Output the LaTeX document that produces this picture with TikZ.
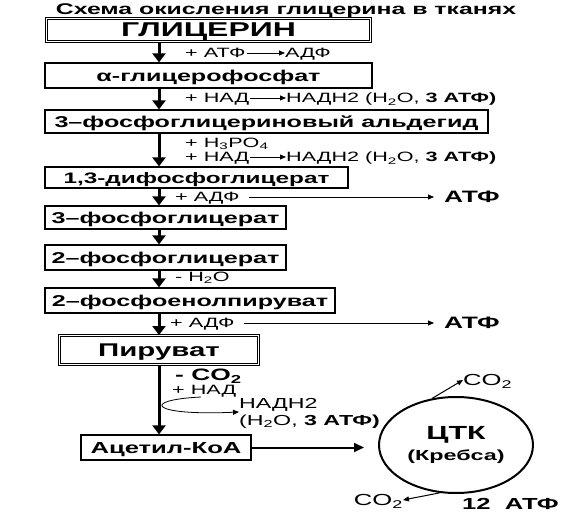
\documentclass[tikz,border=0pt]{standalone}
\usepackage{fontspec}
\setmainfont[FakeStretch=1.6]{Liberation Sans}
\usetikzlibrary{arrows.meta,shapes.geometric}

\begin{document}
\begin{tikzpicture}[x=1pt, y=-1pt,
    box/.style={draw, line width=1.2pt, inner sep=0pt, text depth=0pt,
                font=\fontsize{15.7}{15.7}\selectfont\bfseries},
    bigbox/.style={box, double, double distance=1.6pt, line width=0.9pt,
                   font=\fontsize{20}{20}\selectfont\bfseries},
    lbl/.style={inner sep=0pt, anchor=west, text depth=0pt,
                font=\fontsize{13.5}{13.5}\selectfont},
    blbl/.style={lbl, font=\fontsize{16.5}{16.5}\selectfont\bfseries},
    arr/.style={-{Triangle[length=9pt,width=13pt]}, line width=3pt},
    sarr/.style={-{Triangle[length=6pt,width=5pt]}, line width=0.8pt}
  ]
  \useasboundingbox (0,0) rectangle (567,529);
  \coordinate (ax) at (159,0);

  \node[font=\fontsize{15.5}{15.5}\selectfont\bfseries, text depth=0pt] (title) at (286,9)
    {Схема окисления глицерина в тканях};

  % main chain
  \node[bigbox, minimum width=324pt, minimum height=23pt] (gl) at (208.5,30) {ГЛИЦЕРИН};
  \node[box, minimum width=327pt, minimum height=25pt] (agp) at (208.5,75.5) {α-глицерофосфат};
  \node[box, minimum width=443pt, minimum height=23pt] (pga) at (266.5,121.5) {3–фосфоглицериновый альдегид};
  \node[box, minimum width=303pt, minimum height=21pt, font=\fontsize{15.2}{15.2}\selectfont\bfseries]
    (dpg) at (196.5,177.5) {1,3-дифосфоглицерат};
  \node[box, minimum width=241pt, minimum height=23pt] (pg3) at (165.5,217.5) {3–фосфоглицерат};
  \node[box, minimum width=241pt, minimum height=25pt] (pg2) at (165.5,257.5) {2–фосфоглицерат};
  \node[box, minimum width=290pt, minimum height=25pt] (pep) at (190,300.5) {2–фосфоенолпируват};
  \node[bigbox, minimum width=199pt, minimum height=29pt, font=\fontsize{18.4}{18.4}\selectfont\bfseries]
    (pyr) at (159,350) {Пируват};
  \node[box, minimum width=170pt, minimum height=25pt, font=\fontsize{16}{16}\selectfont\bfseries]
    (acoa) at (166,447.5) {Ацетил-КоА};

  \draw[arr] (gl.south -| ax) -- (agp.north -| ax);
  \draw[arr] (agp.south -| ax) -- (pga.north -| ax);
  \draw[arr] (pga.south -| ax) -- (dpg.north -| ax);
  \draw[arr] (dpg.south -| ax) -- (pg3.north -| ax);
  \draw[arr] (pg3.south -| ax) -- (pg2.north -| ax);
  \draw[arr] (pg2.south -| ax) -- (pep.north -| ax);
  \draw[arr] (pep.south -| ax) -- (pyr.north -| ax);
  \draw[arr] (pyr.south -| ax) -- (acoa.north -| ax);

  % side reactions
  \node[lbl] (atp1) at (185,53) {+ АТФ};
  \node[lbl] (adp1) at (285,53) {АДФ};
  \draw[sarr, shorten <=1pt] (atp1.east) -- (adp1.west);

  \node[lbl] (nad1) at (185,98) {+ НАД};
  \node[lbl] (nadh1) at (286,98) {НАДН2 (H\textsubscript{2}O, \textbf{3 АТФ)}};
  \draw[sarr, shorten <=1pt] (nad1.east) -- (nadh1.west);

  \node[lbl] (pho) at (185,143) {+ H\textsubscript{3}PO\textsubscript{4}};
  \node[lbl] (nad2) at (185,157) {+ НАД};
  \node[lbl] (nadh2) at (286,157) {НАДН2 (H\textsubscript{2}O, \textbf{3 АТФ)}};
  \draw[sarr, shorten <=1pt] (nad2.east) -- (nadh2.west);

  \node[lbl] (adp2) at (175,197) {+ АДФ};
  \node[blbl] (atp2) at (444,197) {АТФ};
  \draw[sarr, shorten <=9pt, shorten >=10pt] (adp2.east) -- (atp2.west);

  \node[lbl] (h2o) at (175,277) {- H\textsubscript{2}O};

  \node[lbl] (adp3) at (170,323) {+ АДФ};
  \node[blbl] (atp3) at (444,323) {АТФ};
  \draw[sarr, shorten <=9pt, shorten >=10pt] (adp3.east) -- (atp3.west);

  \node[blbl] (co2) at (175,375) {- CO\textsubscript{2}};
  \node[lbl] (nad3) at (172,390) {+ НАД};
  \node[lbl, align=left, font=\fontsize{14.5}{17}\selectfont] (nadh3) at (239,412)
    {НАДН2\\(H\textsubscript{2}O, \textbf{3 АТФ)}};
  \coordinate (nadst) at (201,397);
  \draw[sarr] (nadst) .. controls (140,400) and (150,416) .. (nadh3.west);

  % Krebs cycle
  \node[ellipse, draw, line width=2pt, minimum width=154pt, minimum height=96pt,
        inner sep=0pt, align=center, font=\bfseries] (tca) at (456,445)
    {{\fontsize{19}{22}\selectfont ЦТК}\\[5pt]{\fontsize{14.6}{18}\selectfont (Кребса)}};
  \draw[-{Triangle[length=10pt,width=9pt]}, line width=2pt, shorten >=14pt]
    (acoa.east) -- (acoa.east -| tca.west);

  \node[lbl, font=\fontsize{16}{16}\selectfont] (co2a) at (463,380) {CO\textsubscript{2}};
  \node[lbl, font=\fontsize{16}{16}\selectfont, anchor=east] (co2b) at (403,500) {CO\textsubscript{2}};
  \node[blbl, font=\fontsize{16}{16}\selectfont\bfseries] (atp12) at (462,504) {12\ \ АТФ};
  \draw[sarr, line width=1pt] (tca.117) -- (co2a.west);
  \draw[sarr, line width=1pt] (tca.251) -- (co2b.east);
\end{tikzpicture}
\end{document}
